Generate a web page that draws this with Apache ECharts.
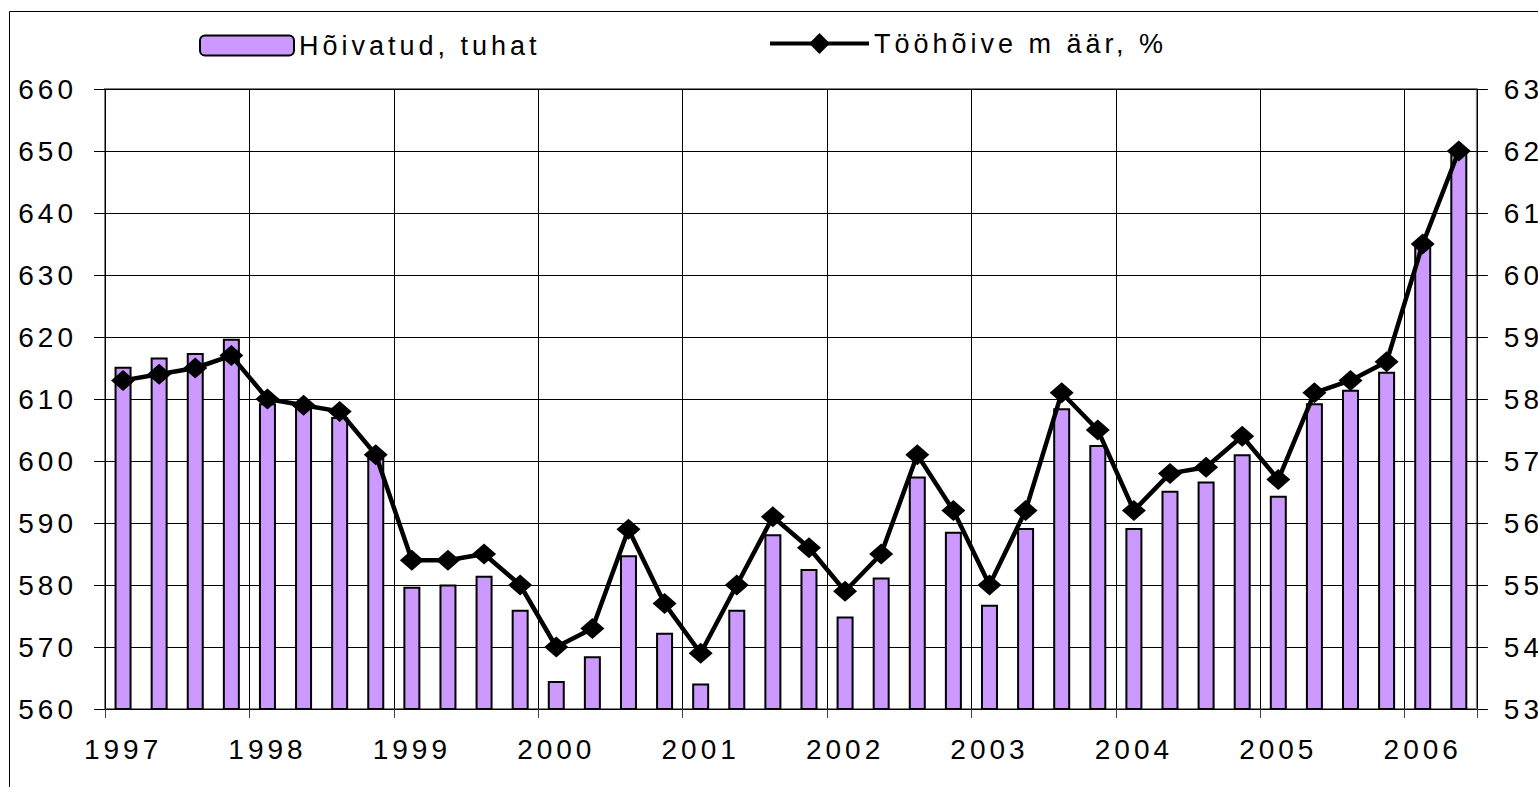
<!DOCTYPE html>
<html>
<head>
<meta charset="utf-8">
<script src="https://cdn.jsdelivr.net/npm/echarts@6/dist/echarts.min.js"></script>
<style>
  html, body { margin: 0; padding: 0; background: #fff; }
  #main { width: 1538px; height: 787px; }
  /* Excel-like wide letter spacing */
  #main text { letter-spacing: 4px; }
</style>
</head>
<body>
<div id="main"></div>
<script>
var years = ['1997','1998','1999','2000','2001','2002','2003','2004','2005','2006'];
var quarters = ['I','II','III','IV'];

// Hõivatud, tuhat (left axis)
var employed = [
  615.2, 616.7, 617.4, 619.7,
  609.3, 608.7, 607.1, 600.5,
  579.7, 580.1, 581.5, 576.0,
  564.5, 568.5, 584.8, 572.3,
  564.1, 576.0, 588.2, 582.6,
  574.9, 581.2, 597.5, 588.6,
  576.8, 589.2, 608.5, 602.6,
  589.2, 595.2, 596.7, 601.1,
  594.4, 609.3, 611.5, 614.4,
  634.7, 650.0
];

// Tööhõive määr, % (right axis)
var rate = [
  58.3, 58.4, 58.5, 58.7,
  58.0, 57.9, 57.8, 57.1,
  55.4, 55.4, 55.5, 55.0,
  54.0, 54.3, 55.9, 54.7,
  53.9, 55.0, 56.1, 55.6,
  54.9, 55.5, 57.1, 56.2,
  55.0, 56.2, 58.1, 57.5,
  56.2, 56.8, 56.9, 57.4,
  56.7, 58.1, 58.3, 58.6,
  60.5, 62.0
];

var categories = [];
for (var i = 0; i < employed.length; i++) {
  categories.push(years[Math.floor(i / 4)] + ' ' + quarters[i % 4]);
}

var font = 'Liberation Sans';
var myChart = echarts.init(document.getElementById('main'), null, {renderer: 'svg'});

var option = {
  animation: false,
  backgroundColor: '#fff',
  textStyle: {fontFamily: font},
  graphic: [{
    type: 'rect',
    shape: {x: 9.5, y: 11.5, width: 1700, height: 900},
    style: {fill: 'none', stroke: '#000', lineWidth: 1},
    silent: true
  }],
  legend: [{
    data: ['Hõivatud, tuhat'],
    left: 194, top: 27,
    itemWidth: 94, itemHeight: 20,
    textStyle: {fontSize: 27, color: '#000', fontFamily: font}
  }, {
    data: ['Tööhõive m äär, %'],
    left: 763, top: 25,
    itemWidth: 99, itemHeight: 26,
    lineStyle: {width: 4, color: '#000'},
    textStyle: {fontSize: 27, color: '#000', fontFamily: font}
  }],
  grid: {
    left: 105, top: 89, width: 1373, height: 620,
    show: true, borderColor: '#808080', borderWidth: 2,
    containLabel: false
  },
  xAxis: {
    type: 'category',
    data: categories,
    boundaryGap: true,
    axisLine: {show: false},
    axisTick: {show: true, interval: 3, length: 9, lineStyle: {color: '#404040'}},
    splitLine: {show: true, interval: 3, lineStyle: {color: '#000', width: 1}},
    axisLabel: {
      interval: 3, margin: 26, fontSize: 28, color: '#000', fontFamily: font,
      formatter: function (v) { return v.slice(0, 4); }
    }
  },
  yAxis: [{
    type: 'value',
    min: 560, max: 660, interval: 10,
    axisLine: {show: false},
    axisTick: {show: true, length: 11, lineStyle: {color: '#000'}},
    splitLine: {show: true, lineStyle: {color: '#000', width: 1}},
    axisLabel: {margin: 28, fontSize: 28, color: '#000', fontFamily: font}
  }, {
    type: 'value',
    min: 53, max: 63, interval: 1,
    axisLine: {show: false},
    axisTick: {show: true, length: 11, lineStyle: {color: '#000'}},
    splitLine: {show: false},
    axisLabel: {margin: 27, fontSize: 28, color: '#000', fontFamily: font}
  }],
  series: [{
    name: 'Hõivatud, tuhat',
    type: 'bar',
    data: employed,
    barWidth: 17,
    itemStyle: {color: '#CC99FF', borderColor: '#000', borderWidth: 2}
  }, {
    name: 'Tööhõive m äär, %',
    type: 'line',
    yAxisIndex: 1,
    data: rate,
    symbol: 'diamond',
    symbolSize: [24, 21],
    z: 5,
    lineStyle: {color: '#000', width: 4.5},
    itemStyle: {color: '#000'}
  }]
};

myChart.setOption(option);
</script>
</body>
</html>
